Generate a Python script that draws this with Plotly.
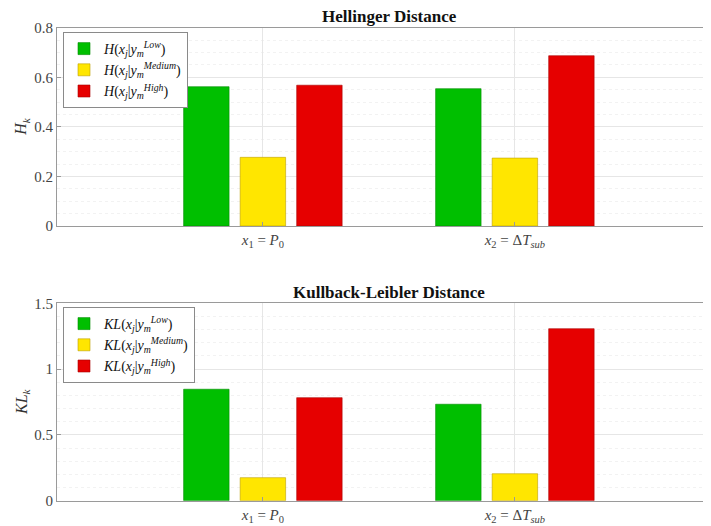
import plotly.graph_objects as go

categories = ["<i>x</i><sub>1</sub> = <i>P</i><sub>0</sub>",
              "<i>x</i><sub>2</sub> = Δ<i>T</i><sub><i>sub</i></sub>"]
series_names = ["Low", "Medium", "High"]
hellinger_low = [0.562, 0.554]
hellinger_medium = [0.277, 0.274]
hellinger_high = [0.568, 0.687]
kl_low = [0.847, 0.733]
kl_medium = [0.175, 0.205]
kl_high = [0.783, 1.307]

colors = ["rgb(0,191,0)", "rgb(255,230,0)", "rgb(230,0,0)"]
edge = ["rgb(0,140,0)", "rgb(190,160,0)", "rgb(170,0,0)"]
serif = "Liberation Serif"

fig = go.Figure()

h_vals = [hellinger_low, hellinger_medium, hellinger_high]
kl_vals = [kl_low, kl_medium, kl_high]
for i, name in enumerate(series_names):
    fig.add_trace(go.Bar(
        x=categories, y=h_vals[i],
        name=f"<i>H</i>(<i>x</i><sub><i>j</i></sub>|<i>y</i><sub><i>m</i></sub><sup><i>{name}</i></sup>)",
        marker=dict(color=colors[i], line=dict(color=edge[i], width=0.6)),
        xaxis="x", yaxis="y", legend="legend"))
for i, name in enumerate(series_names):
    fig.add_trace(go.Bar(
        x=categories, y=kl_vals[i],
        name=f"<i>KL</i>(<i>x</i><sub><i>j</i></sub>|<i>y</i><sub><i>m</i></sub><sup><i>{name}</i></sup>)",
        marker=dict(color=colors[i], line=dict(color=edge[i], width=0.6)),
        xaxis="x2", yaxis="y2", legend="legend2"))

W, H = 711, 526
OFF = 8  # page body margin offset
def px(v):
    return (v - OFF) / W
def py(v):
    return 1 - (v - OFF) / H

x0 = px(57)
top_dom = [py(226), py(27.7)]
bot_dom = [py(500.7), py(303.3)]
xrange = [-0.817, 1.81]

axis_common = dict(showline=True, linecolor="#9a9a9a", linewidth=1, mirror=True,
                   ticks="inside", tickcolor="#9a9a9a", ticklen=4,
                   showgrid=True, gridcolor="#e6e6e6", gridwidth=1,
                   tickfont=dict(family=serif, size=15, color="#444"),
                   zeroline=False, automargin=False)

fig.update_layout(
    width=W, height=H,
    margin=dict(l=0, r=0, t=0, b=0, pad=0, autoexpand=False),
    paper_bgcolor="white", plot_bgcolor="white",
    barmode="group", bargap=0.327, bargroupgap=0.196,
    xaxis=dict(domain=[x0, 1], anchor="y", range=xrange, **axis_common),
    yaxis=dict(domain=top_dom, anchor="x", range=[0, 0.8], dtick=0.2,
               minor=dict(showgrid=True, gridcolor="#f2f2f2", griddash="dot", dtick=0.05),
               **axis_common),
    xaxis2=dict(domain=[x0, 1], anchor="y2", range=xrange, **axis_common),
    yaxis2=dict(domain=bot_dom, anchor="x2", range=[0, 1.5], dtick=0.5,
                minor=dict(showgrid=True, gridcolor="#f2f2f2", griddash="dot", dtick=0.1),
                **axis_common),
    legend=dict(x=px(63), y=py(32), xanchor="left", yanchor="top",
                bgcolor="white", bordercolor="#8a8a8a", borderwidth=1,
                font=dict(family=serif, size=14, color="#111"),
                tracegroupgap=0, itemwidth=30),
    legend2=dict(x=px(63), y=py(307), xanchor="left", yanchor="top",
                 bgcolor="white", bordercolor="#8a8a8a", borderwidth=1,
                 font=dict(family=serif, size=14, color="#111"),
                 tracegroupgap=0, itemwidth=30),
    annotations=[
        dict(text="<b>Hellinger Distance</b>", x=px(389), y=py(16),
             xref="paper", yref="paper", showarrow=False, yanchor="middle",
             font=dict(family=serif, size=17, color="#111")),
        dict(text="<b>Kullback-Leibler Distance</b>", x=px(389), y=py(292),
             xref="paper", yref="paper", showarrow=False, yanchor="middle",
             font=dict(family=serif, size=17, color="#111")),
        dict(text="<i>H</i><sub><i>k</i></sub>", x=px(22), y=(top_dom[0] + top_dom[1]) / 2,
             xref="paper", yref="paper", showarrow=False, textangle=-90,
             xanchor="center", yanchor="middle",
             font=dict(family=serif, size=16, color="#333")),
        dict(text="<i>KL</i><sub><i>k</i></sub>", x=px(22), y=(bot_dom[0] + bot_dom[1]) / 2,
             xref="paper", yref="paper", showarrow=False, textangle=-90,
             xanchor="center", yanchor="middle",
             font=dict(family=serif, size=16, color="#333")),
    ],
)

fig.write_html("out.html")
